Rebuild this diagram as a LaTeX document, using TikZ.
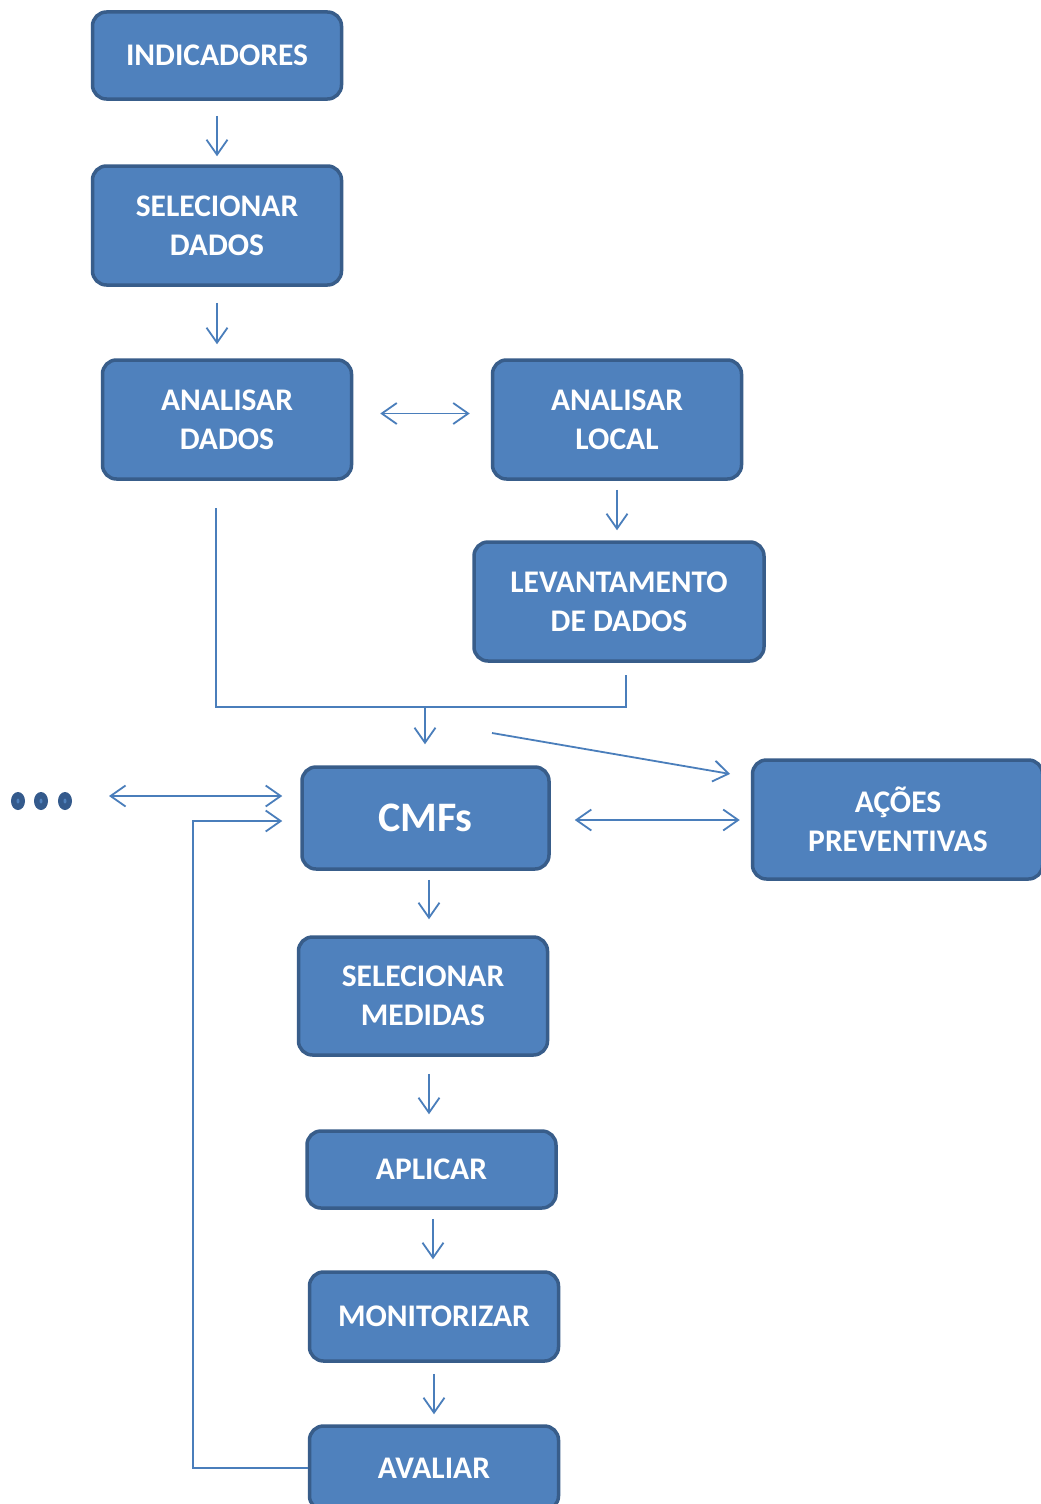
\documentclass[tikz,border=0pt]{standalone}
\usepackage{fontspec}
\setmainfont{Carlito}
\usetikzlibrary{arrows.meta}
\definecolor{boxfill}{HTML}{4F81BD}
\definecolor{boxline}{HTML}{385D8A}
\definecolor{arrline}{HTML}{4A7EBB}
\definecolor{dotblue}{HTML}{345A8C}
\tikzset{
  box/.style={draw=boxline, fill=boxfill, line width=3.5pt, rounded corners=14pt,
    text=white, font=\fontsize{31.5}{39}\selectfont\bfseries, align=center,
    inner sep=0pt, minimum width=249pt},
  conn/.style={draw=arrline, line width=1.8pt},
  arr/.style={conn, -{Straight Barb[length=15pt,width=21pt,line width=1.8pt]}},
  darr/.style={conn, {Straight Barb[length=15pt,width=21pt,line width=1.8pt]}-{Straight Barb[length=15pt,width=21pt,line width=1.8pt]}}
}
\begin{document}
\begin{tikzpicture}[x=1pt,y=-1pt]
		\clip (0,0) rectangle (1041,1504);
		\fill[white] (0,0) rectangle (1041,1504);
		
		% Boxes
		\node[box, minimum height=87pt] (ind) at (217,55.5) {INDICADORES};
		\node[box, minimum height=119pt] (seld) at (217,225.5) {SELECIONAR\\DADOS};
		\node[box, minimum height=119pt] (ad) at (227,419.5) {ANALISAR\\DADOS};
		\node[box, minimum height=119pt] (al) at (617,419.5) {ANALISAR\\LOCAL};
		\node[box, minimum height=119pt, minimum width=290pt] (lev) at (619,601.5) {LEVANTAMENTO\\DE DADOS};
		\node[box, minimum height=102pt, minimum width=247pt, font=\fontsize{42}{44}\selectfont\bfseries] (cmf) at (425.5,818) {CMFs};
		\node[box, minimum height=119pt, minimum width=290pt] (ap) at (897.5,819.5) {};
		\node[text=white, font=\fontsize{31.5}{39}\selectfont\bfseries, align=center] (aptxt) at (898,819.5) {AÇÕES\\PREVENTIVAS};
		\node[box, minimum height=118pt] (sm) at (423,996) {SELECIONAR\\MEDIDAS};
		\node[box, minimum height=77pt] (apl) at (431.5,1169.5) {APLICAR};
		\node[box, minimum height=89pt] (mon) at (434,1316.5) {MONITORIZAR};
		\node[box, minimum height=84pt] (av) at (434,1468) {AVALIAR};
		
		% Dots
		\foreach \dx in {18,41,65} {
			\fill[dotblue] (\dx,801) ellipse (7pt and 9pt);
			\fill[boxfill] (\dx,801) ellipse (1.5pt and 2.5pt);
		}
		\coordinate (dots) at (73,796);
		
		% Free ends
		\coordinate (fromad) at (216,508);
		\coordinate (fromlev) at (626,675);
		\coordinate (merge) at (425,707);
		\coordinate (split) at (492,733);
		\coordinate (fb) at (193,1468);
		
		% Arrows, top part
		\draw[arr, shorten <=15pt, shorten >=8pt] (ind.south) -- (ind.south |- seld.north);
		\draw[arr, shorten <=16pt, shorten >=14pt] (seld.south) -- (seld.south |- ad.north);
		\draw[darr, shorten <=27pt, shorten >=21pt] ([yshift=6pt]ad.east) -- ([yshift=6pt]al.west);
		\draw[arr, shorten <=9pt, shorten >=10pt] (al.south) -- (al.south |- lev.north);
		
		% Merge into CMFs
		\draw[conn] (fromad) |- (merge) -| (fromlev);
		\draw[arr, shorten >=21pt] (merge) -- (merge |- cmf.north);
		\draw[arr, shorten >=21pt] (split) -- ([yshift=42pt]ap.west);
		
		% Around CMFs
		\draw[darr, shorten <=36pt, shorten >=18pt] (dots) -- (dots -| cmf.west);
		\draw[darr, shorten <=24pt, shorten >=11pt] ([yshift=-2pt]cmf.east) -- ([yshift=-2pt]cmf.east -| ap.west);
		\draw[arr, shorten >=18pt] (av.west) -- (fb) |- ([yshift=-3pt]cmf.west);
		
		% Arrows, bottom part
		\draw[arr, shorten <=9pt, shorten >=16pt] ([xshift=3.5pt]cmf.south) -- ([xshift=3.5pt]cmf.south |- sm.north);
		\draw[arr, shorten <=17pt, shorten >=15pt] ([xshift=6pt]sm.south) -- ([xshift=6pt]sm.south |- apl.north);
		\draw[arr, shorten <=9pt, shorten >=11pt] ([xshift=1.5pt]apl.south) -- ([xshift=1.5pt]apl.south |- mon.north);
		\draw[arr, shorten <=11pt, shorten >=10pt] (mon.south) -- (mon.south |- av.north);
	\end{tikzpicture}
\end{document}
